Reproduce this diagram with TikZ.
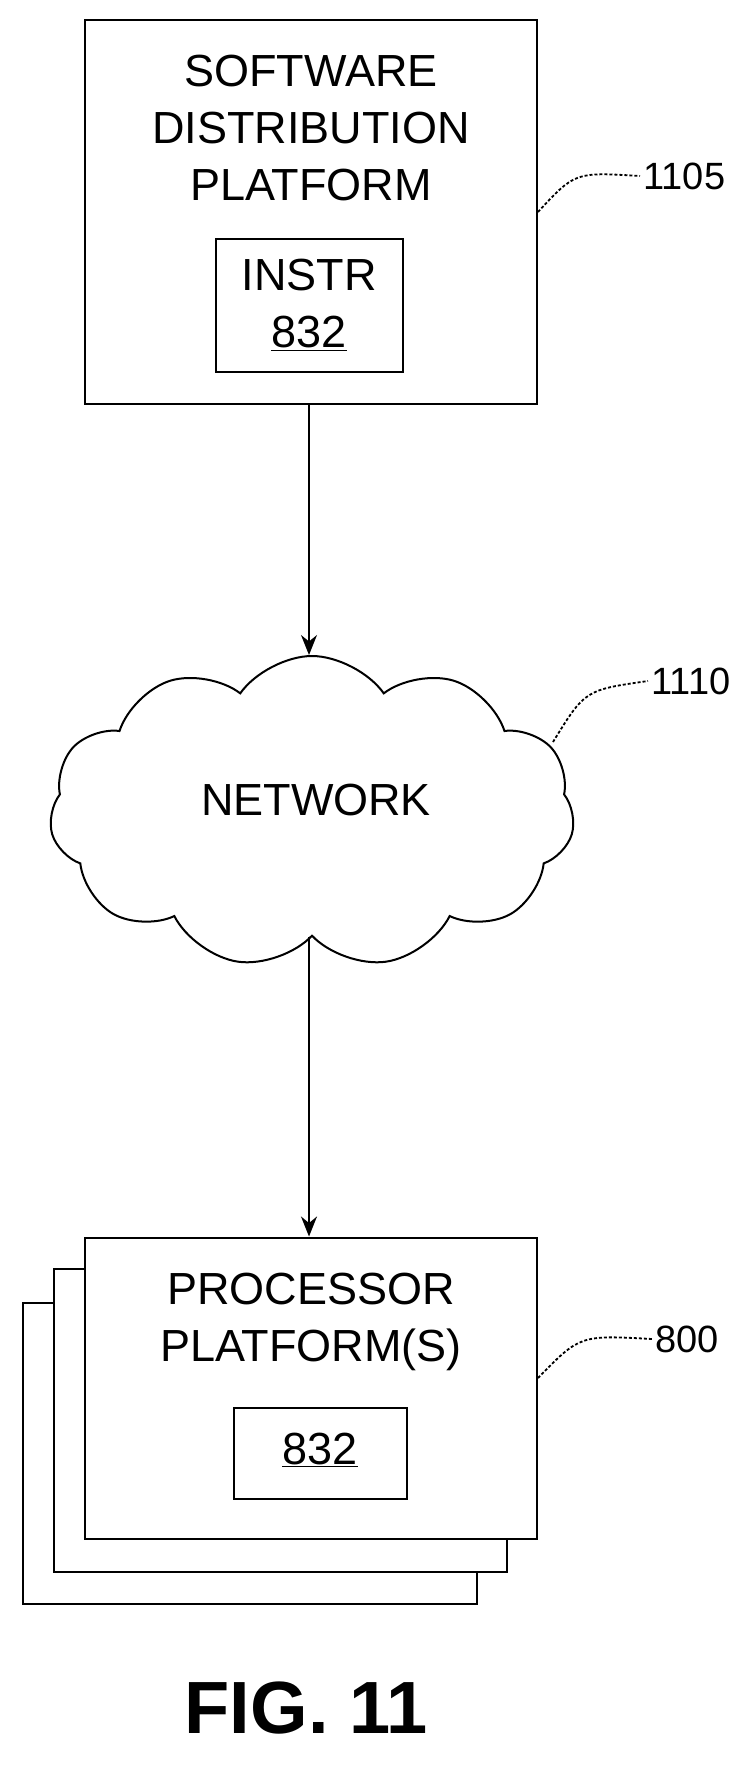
\documentclass[tikz,border=0pt]{standalone}
\usepackage{fontspec}
\setmainfont{Liberation Sans}
\usetikzlibrary{shapes.symbols,arrows.meta}

\begin{document}
\begin{tikzpicture}[x=1pt,y=-1pt,
    block/.style ={draw, line width=2pt, fill=white, inner sep=0pt},
    caption/.style ={font=\fontsize{45}{57}\selectfont, align=center},
    ref/.style ={font=\fontsize{38}{42}\selectfont, anchor=west},
    leader/.style ={line width=1.8pt, dash pattern=on 3pt off 2pt},
    link/.style ={line width=2pt, -{Stealth[length=20pt,width=16pt]}}]
   \useasboundingbox (0,0) rectangle (749,1769);

   % distribution platform
   \node[block, minimum width=452pt, minimum height=383pt] (dist) at (311,212) {};
   \node[caption] (distlbl) at (311,128) {SOFTWARE\\DISTRIBUTION\\PLATFORM};
   \node[block, minimum width=187pt, minimum height=133pt] (instr) at (309,305) {};
   \node[caption] (instrlbl) at (309,305) {INSTR\\\underline{832}};
   \node[ref] (r1105) at (640,176) {1105};
   \draw[leader] (dist.east |- 0,212) .. controls (575,172) .. (r1105.west);

   % network
   \node[cloud, draw, line width=2pt, cloud puffs=11, cloud puff arc=110, aspect=1.6,
         minimum width=525pt, minimum height=312pt] (net) at (312,812) {};
   \node[caption] (netlbl) at (316,800) {NETWORK};
   \node[ref] (r1110) at (648,681) {1110};
   \coordinate (netedge) at (553,742);
   \draw[leader] (netedge) .. controls (585,690) .. (r1110.west);

   % processor platforms
   \node[block, minimum width=454pt, minimum height=301pt] (back) at (250,1453) {};
   \node[block, minimum width=453pt, minimum height=303pt] (mid) at (280,1420) {};
   \node[block, minimum width=452pt, minimum height=301pt] (proc) at (311,1388) {};
   \node[caption] (proclbl) at (311,1322) {PROCESSOR\\PLATFORM(S)};
   \node[block, minimum width=173pt, minimum height=91pt] (code) at (320,1453) {};
   \node[caption] (codelbl) at (320,1450) {\underline{832}};
   \node[ref] (r800) at (652,1339) {800};
   \draw[leader] (proc.east |- 0,1378) .. controls (580,1335) .. (r800.west);

   \draw[link] (dist.south -| 309,0) -- (net.north -| 309,0);
   \draw[link] (net.south -| 309,0) -- (proc.north -| 309,0);

   \node[font=\fontsize{74}{80}\selectfont\bfseries] (fig) at (306,1708) {FIG. 11};
 \end{tikzpicture}
\end{document}
